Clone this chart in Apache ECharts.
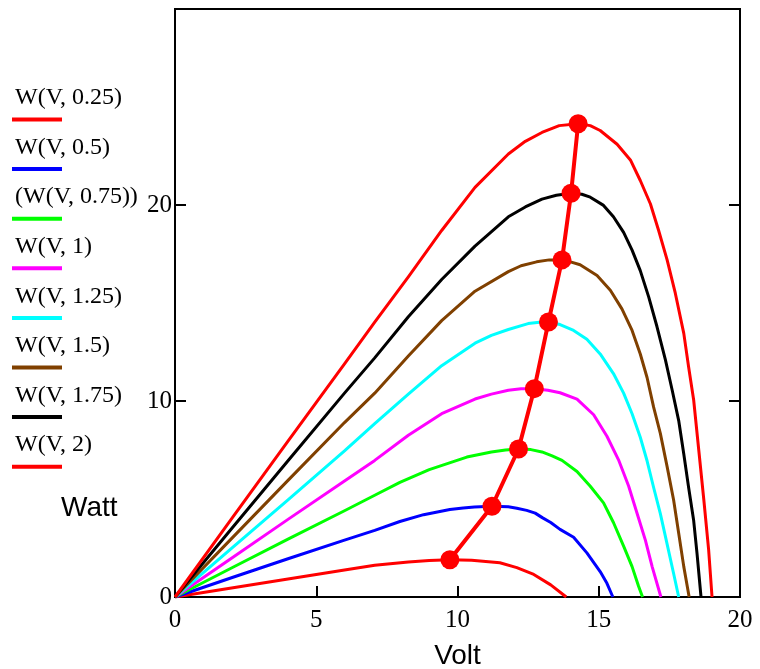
<!DOCTYPE html>
<html><head><meta charset="utf-8">
<script src="https://cdn.jsdelivr.net/npm/echarts@6/dist/echarts.min.js"></script>
<style>html,body{margin:0;padding:0;background:#fff}#c{width:760px;height:669px}</style>
</head><body><div id="c"></div>
<script>
const seriesNames = ['W(V, 0.25)', 'W(V, 0.5)', '(W(V, 0.75))', 'W(V, 1)', 'W(V, 1.25)', 'W(V, 1.5)', 'W(V, 1.75)', 'W(V, 2)'];
const seriesColors = ['#ff0000', '#0000ff', '#00ff00', '#ff00ff', '#00ffff', '#804000', '#000000', '#ff0000'];

const w025 = [[0,0],[1,0.23],[2,0.46],[3,0.69],[4,0.92],[5,1.15],[6,1.38],[7.07,1.62],[8.26,1.79],[9,1.86],[9.73,1.9],[10.5,1.87],[11.5,1.75],[12.1,1.5],[12.7,1.15],[13.3,0.62],[13.85,0]];
const w05 = [[0,0],[2,0.98],[4,1.95],[6,2.9],[7.07,3.4],[7.96,3.85],[8.8,4.2],[9.73,4.46],[10.2,4.54],[10.6,4.59],[11.22,4.63],[11.8,4.6],[12.1,4.53],[12.45,4.42],[12.75,4.28],[13.0,4.05],[13.3,3.8],[13.63,3.45],[14.11,3.05],[14.58,2.25],[15.05,1.3],[15.29,0.7],[15.5,0]];
const w075 = [[0,0],[2,1.48],[4,2.95],[6,4.4],[7.07,5.19],[7.96,5.85],[9,6.5],[10.33,7.14],[11.2,7.4],[11.7,7.5],[12.16,7.55],[12.6,7.52],[12.99,7.4],[13.35,7.2],[13.7,6.97],[14.23,6.4],[14.7,5.65],[15.17,4.8],[15.52,3.8],[15.88,2.6],[16.18,1.55],[16.41,0.55],[16.55,0]];
const w1 = [[0,0],[2,1.98],[4,3.96],[6,5.92],[7.07,6.97],[8.26,8.25],[9.44,9.35],[10.62,10.1],[11.2,10.35],[11.8,10.55],[12.25,10.62],[12.72,10.63],[13.2,10.55],[13.63,10.42],[14.23,10.1],[14.82,9.3],[15.29,8.2],[15.7,7.0],[16.06,5.65],[16.35,4.3],[16.65,2.9],[16.89,1.55],[17.2,0]];
const w125 = [[0,0],[2,2.48],[4,4.96],[6,7.45],[7.07,8.85],[8.26,10.35],[9.44,11.8],[10.62,12.95],[11.2,13.35],[11.8,13.65],[12.5,13.95],[12.9,14.02],[13.22,14.03],[13.63,13.9],[14.11,13.6],[14.58,13.15],[15.05,12.4],[15.52,11.4],[15.88,10.4],[16.18,9.35],[16.47,8.15],[16.71,6.95],[16.94,5.6],[17.18,4.25],[17.42,2.7],[17.65,1.2],[17.83,0]];
const w15 = [[0,0],[2,2.98],[4,5.95],[6,8.9],[7.07,10.4],[8.26,12.3],[9.44,14.1],[10.62,15.6],[11.8,16.6],[12.25,16.9],[12.8,17.1],[13.25,17.2],[13.7,17.2],[14.0,17.1],[14.34,16.95],[14.94,16.4],[15.41,15.65],[15.82,14.7],[16.18,13.6],[16.47,12.4],[16.71,11.2],[16.94,9.7],[17.18,8.35],[17.42,6.65],[17.65,4.95],[17.83,3.25],[18.01,1.55],[18.2,0]];
const w175 = [[0,0],[2,3.48],[4,6.95],[6,10.4],[7.07,12.2],[8.26,14.3],[9.44,16.2],[10.62,17.9],[11.8,19.4],[12.4,19.9],[12.99,20.3],[13.5,20.5],[14.02,20.6],[14.4,20.55],[14.7,20.4],[15.17,19.98],[15.52,19.4],[15.88,18.6],[16.18,17.7],[16.47,16.65],[16.77,15.3],[17.06,13.8],[17.36,12.1],[17.6,10.55],[17.83,9.0],[18.01,7.3],[18.18,5.6],[18.36,3.9],[18.48,2.2],[18.62,0]];
const w2 = [[0,0],[2,3.98],[4,7.95],[6,11.9],[7.07,14.03],[8.26,16.33],[9.44,18.7],[10.62,20.9],[11.8,22.6],[12.4,23.25],[12.99,23.7],[13.6,24.05],[14.27,24.15],[14.7,24.05],[15.05,23.8],[15.65,23.1],[16.12,22.3],[16.47,21.25],[16.83,20.05],[17.12,18.7],[17.42,17.2],[17.71,15.5],[18.01,13.45],[18.18,11.75],[18.36,10.05],[18.54,7.5],[18.72,4.95],[18.89,2.4],[19.01,0]];

const peakVolt = [9.73, 11.22, 12.16, 12.72, 13.22, 13.7, 14.02, 14.27];
const peakWatt = [1.9, 4.63, 7.55, 10.63, 14.03, 17.2, 20.6, 24.15];

const curves = [w025, w05, w075, w1, w125, w15, w175, w2];

const chart = echarts.init(document.getElementById('c'), null, {renderer: 'canvas'});

const series = curves.map((d, i) => ({
  name: seriesNames[i], type: 'line', data: d, showSymbol: false,
  smooth: false,
  lineStyle: {color: seriesColors[i], width: 3, join: 'round'}, itemStyle: {color: seriesColors[i]},
  z: 2, animation: false
}));
series.push({
  name: 'peak', type: 'line', data: peakVolt.map((v, i) => [v, peakWatt[i]]),
  symbol: 'circle', symbolSize: 19, showSymbol: true,
  lineStyle: {color: '#ff0000', width: 4}, itemStyle: {color: '#ff0000'}, z: 5, animation: false
});

const graphics = [];
seriesNames.forEach((n, i) => {
  const yc = 100 + 49.6 * i;
  graphics.push({type: 'text', left: 15, top: yc - 14, style: {text: n, fill: '#000', font: '24px "Liberation Serif"'}});
  graphics.push({type: 'rect', shape: {x: 12, y: yc + 17.5, width: 50, height: 4}, style: {fill: seriesColors[i]}});
});
graphics.push({type: 'text', left: 61, top: 494, style: {text: 'Watt', fill: '#000', font: '28px "Liberation Sans"'}});

const axisLineStyle = {show: true, lineStyle: {color: '#000', width: 2}};
chart.setOption({
  animation: false,
  backgroundColor: '#fff',
  grid: {left: 175, right: 20, top: 9, bottom: 72, show: true, borderColor: '#000', borderWidth: 2, containLabel: false, outerBoundsMode: 'none'},
  xAxis: {
    type: 'value', min: 0, max: 20, interval: 5,
    name: 'Volt', nameLocation: 'middle', nameGap: 45,
    nameTextStyle: {fontFamily: 'Liberation Sans', fontSize: 28, color: '#000'},
    axisLine: axisLineStyle, axisTick: {show: true, inside: true, length: 11, lineStyle: {color: '#000', width: 2}},
    axisLabel: {fontFamily: 'Liberation Serif', fontSize: 25, color: '#000', margin: 11},
    splitLine: {show: false}
  },
  yAxis: [{
    type: 'value', min: 0, max: 30, interval: 10, position: 'left',
    axisLine: axisLineStyle, axisTick: {show: true, inside: true, length: 11, lineStyle: {color: '#000', width: 2}},
    axisLabel: {fontFamily: 'Liberation Serif', fontSize: 25, color: '#000', margin: 3, showMaxLabel: false},
    splitLine: {show: false}
  }, {
    type: 'value', min: 0, max: 30, interval: 10, position: 'right',
    axisLine: axisLineStyle, axisTick: {show: true, inside: true, length: 11, lineStyle: {color: '#000', width: 2}},
    axisLabel: {show: false}, splitLine: {show: false}
  }],
  graphic: graphics,
  series: series
});
</script></body></html>
